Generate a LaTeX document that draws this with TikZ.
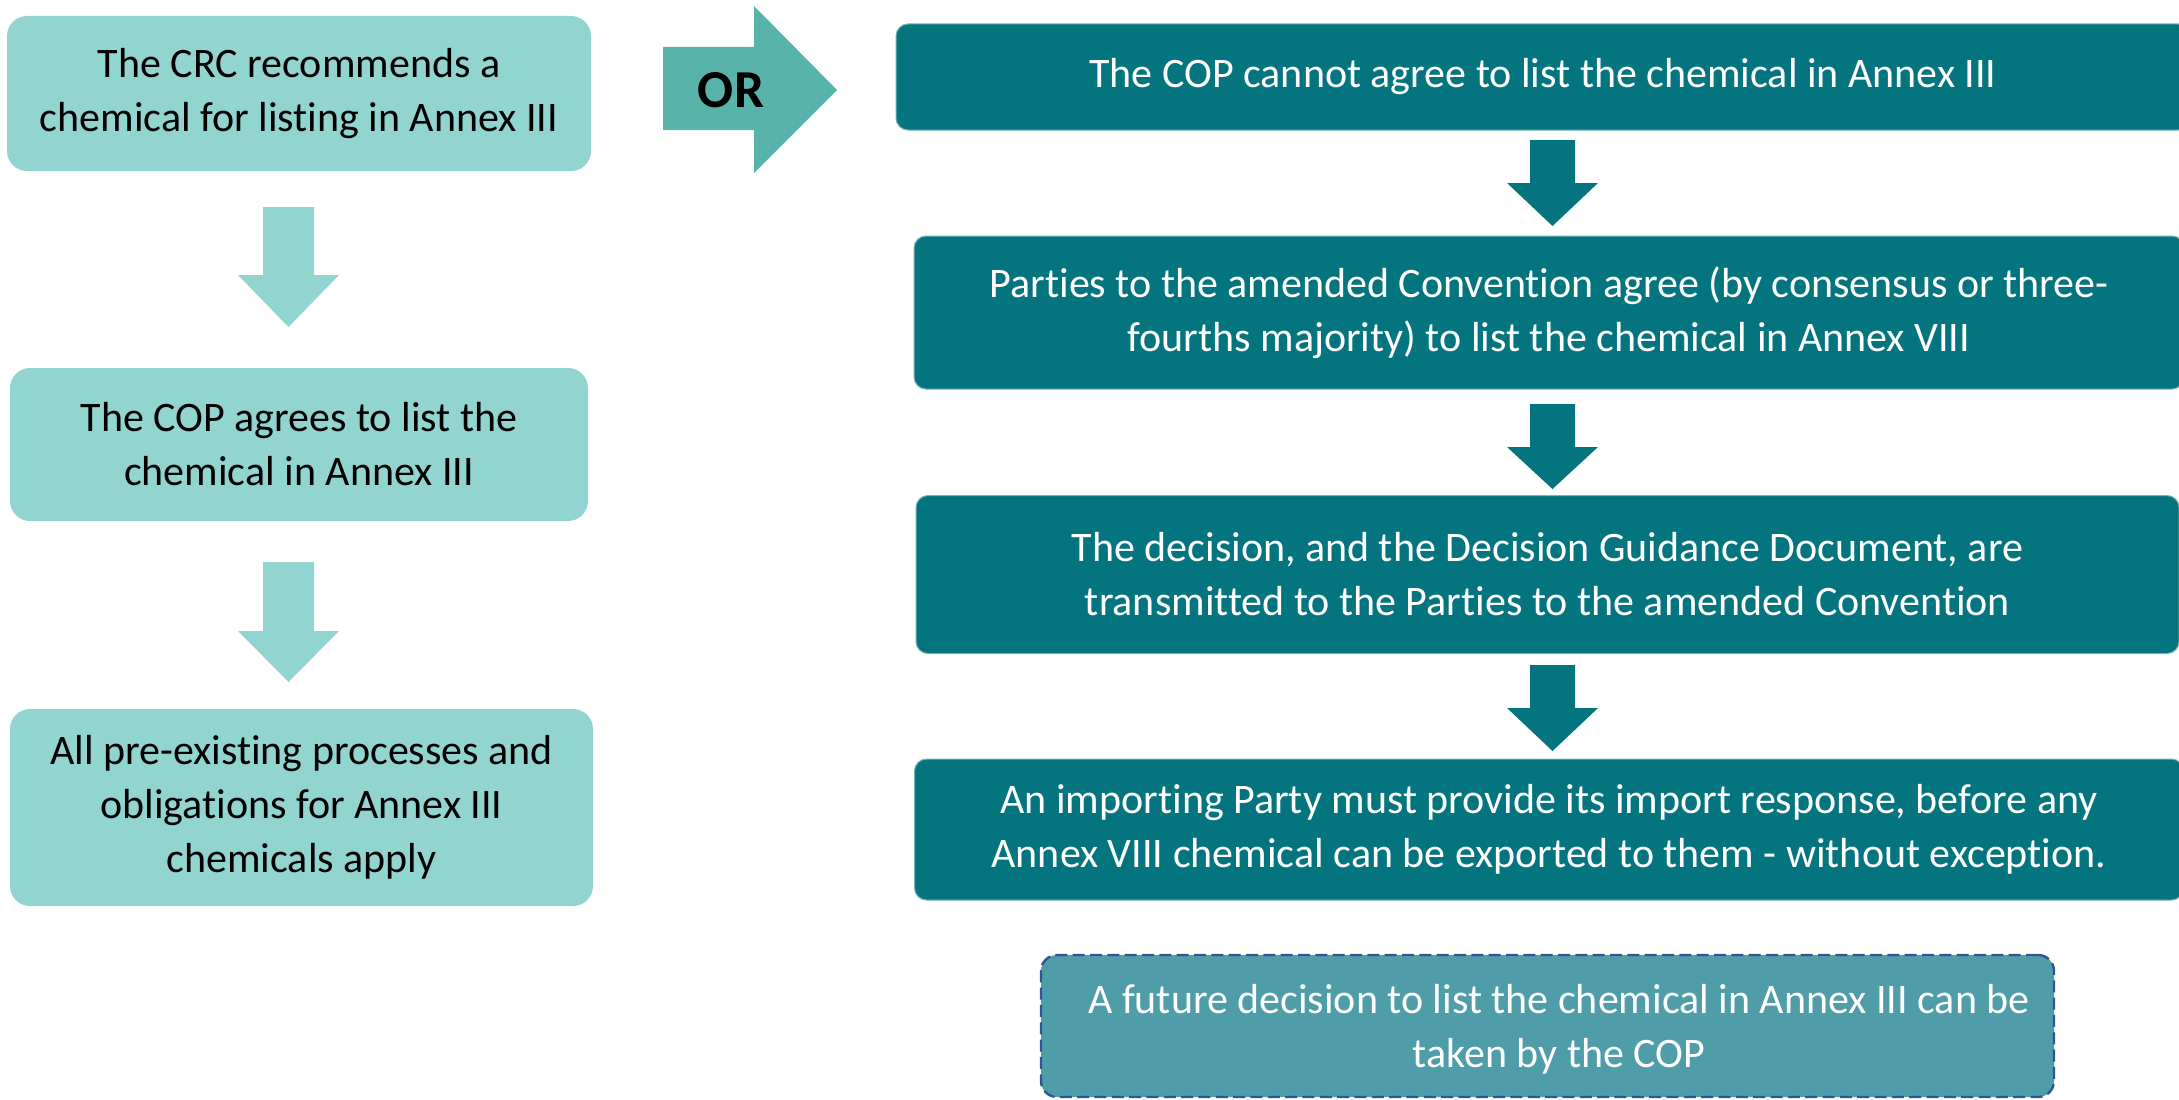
\documentclass[tikz,border=0pt]{standalone}
\usepackage{fontspec}
\setmainfont{Carlito}[Ligatures=NoCommon]
\usepackage{tikz}

\definecolor{lightteal}{HTML}{92D4D0}
\definecolor{darkteal}{HTML}{04757F}
\definecolor{orteal}{HTML}{58B4AA}
\definecolor{futureteal}{HTML}{4F9DA8}
\definecolor{dashblue}{HTML}{2F5597}

\begin{document}
\begin{tikzpicture}[x=0.75pt,y=0.75pt,yscale=-1,xscale=1,
  boxtext/.style={inner sep=0pt, align=center, font=\fontsize{31.5}{40.5}\selectfont},
  copbox/.style={boxtext, fill=lightteal, rounded corners=15pt, text=black},
  amendbox/.style={boxtext, fill=darkteal, draw=darkteal!55!white, line width=0.75pt, rounded corners=9pt, text=white},
  futurebox/.style={fill=futureteal, draw=dashblue, line width=1.8pt, dash pattern=on 9pt off 4pt, rounded corners=12pt}]
\useasboundingbox (0,0) rectangle (2179,1099);

%Rounded Rect [id:crc]
\node [copbox, minimum width=438pt, minimum height=116.25pt] (crc) at (299,93.5) {The CRC recommends a\\chemical for listing in Annex III};
%Rounded Rect [id:copagrees]
\node [copbox, minimum width=433.5pt, minimum height=114.75pt] (copagrees) at (299,444.5) {The COP agrees to list the\\chemical in Annex III};
%Rounded Rect [id:apply]
\node [copbox, minimum width=437.25pt, minimum height=147.75pt] (apply) at (301.5,807.5) {All pre-existing processes and\\obligations for Annex III\\chemicals apply};

%Down Arrows (left column)
\foreach \t/\h/\b in {207/275/327, 562/631/682}
  \fill [lightteal] (263,\t) -- (314,\t) -- (314,\h) -- (339,\h) -- (288.5,\b) -- (238,\h) -- (263,\h) -- cycle ;

%Right Arrow [id:or]
\fill [orteal] (663,47) -- (754,47) -- (754,6) -- (837,90) -- (754,173) -- (754,130) -- (663,130) -- cycle ;
% Text Node
\node [inner sep=0pt, font=\fontsize{40}{48}\selectfont\bfseries] (ortext) at (731,90) {OR};

%Rounded Rect [id:cannot]
\node [amendbox, minimum width=970.5pt, minimum height=79.5pt] (cannot) at (1543,77) {The COP cannot agree to list the chemical in Annex III};
%Rounded Rect [id:annexviii]
\node [amendbox, minimum width=952.5pt, minimum height=114.75pt] (annexviii) at (1549,312.5) {Parties to the amended Convention agree (by consensus or three-\\fourths majority) to list the chemical in Annex VIII};
%Rounded Rect [id:transmit]
\node [amendbox, minimum width=947.25pt, minimum height=118.5pt] (transmit) at (1547.5,574.5) {The decision, and the Decision Guidance Document, are\\transmitted to the Parties to the amended Convention};
%Rounded Rect [id:response]
\node [amendbox, minimum width=951.75pt, minimum height=105.75pt] (response) at (1549,829.5) {An importing Party must provide its import response, before any\\Annex VIII chemical can be exported to them - without exception.};

%Down Arrows (right column)
\foreach \t/\h/\b in {140/183/226, 404/447/489, 665/708/751}
  \fill [darkteal] (1530,\t) -- (1575,\t) -- (1575,\h) -- (1598,\h) -- (1552.5,\b) -- (1507,\h) -- (1530,\h) -- cycle ;

%Rounded Rect [id:future]
\node [futurebox, minimum width=759.75pt, minimum height=106.5pt] (future) at (1547.5,1026) {};
% Text Node
\node [boxtext, text=white] (futuretext) at (1559,1029) {A future decision to list the chemical in Annex III can be\\taken by the COP};

\end{tikzpicture}
\end{document}
